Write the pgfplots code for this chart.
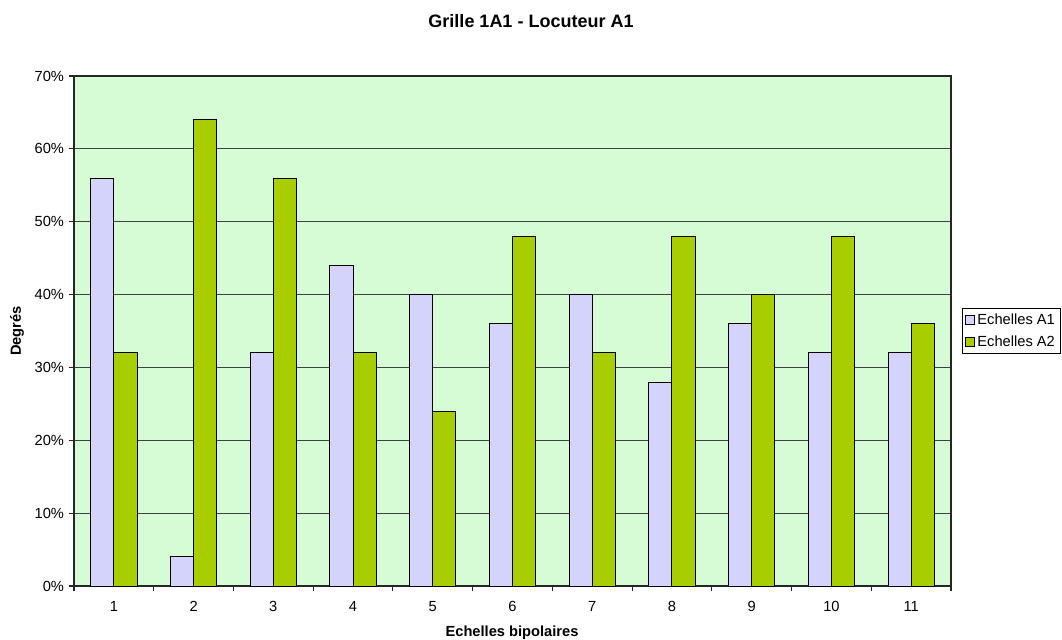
\documentclass[border=0pt]{standalone}
\usepackage{pgfplots}
\pgfplotsset{compat=1.18}
\usepackage{fontspec}
\setmainfont{Liberation Sans}
\definecolor{bgg}{RGB}{214,252,214}
\definecolor{cA}{RGB}{211,211,252}
\definecolor{cB}{RGB}{168,206,0}
\begin{document}
\begin{tikzpicture}[x=0.75pt,y=0.75pt]
\begin{axis}[
  at={(0,0)}, anchor=south west,
  scale only axis, width=657.75pt, height=382.5pt,
  ybar=0pt, bar width=0.29,
  xmin=0.5, xmax=11.5, ymin=0, ymax=70,
  axis background/.style={fill=bgg},
  axis line style={black!85, line width=0.9pt},
  xtick={1,...,11},
  major x tick style={draw=none},
  minor xtick={0.5,1.5,...,11.5},
  minor x tick style={black!85, line width=0.8pt},
  ytick={0,10,...,70},
  y tick style={black!85, line width=0.8pt},
  tick align=outside,
  major tick length=4pt, minor tick length=4pt,
  xtick pos=bottom, ytick pos=left,
  ymajorgrids, grid style={black!75, line width=0.6pt},
  yticklabel={\pgfmathprintnumber{\tick}\%},
  /pgf/number format/assume math mode=true,
  tick label style={font=\fontsize{11}{13}\selectfont},
  xticklabel style={yshift=-4pt},
  legend style={at={(1,0.5)}, anchor=west, xshift=8pt, draw=black, line width=0.6pt,
    font=\fontsize{11}{13}\selectfont, row sep=3pt, inner xsep=2pt, inner ysep=2pt},
  legend cell align=left,
  legend image code/.code={\draw[#1, draw=black, line width=0.5pt] (0pt,-3.5pt) rectangle (7pt,3.5pt);},
  every axis plot/.append style={draw=black, line width=0.7pt},
]
\addplot[fill=cA] coordinates {(1,56) (2,4) (3,32) (4,44) (5,40) (6,36) (7,40) (8,28) (9,36) (10,32) (11,32)};
\addplot[fill=cB] coordinates {(1,32) (2,64) (3,56) (4,32) (5,24) (6,48) (7,32) (8,48) (9,40) (10,48) (11,36)};
\legend{Echelles A1, Echelles A2}
\end{axis}
\node[font=\bfseries\fontsize{13.5}{15}\selectfont] at (457,565) {Grille 1A1 - Locuteur A1};
\node[font=\bfseries\fontsize{11}{13}\selectfont, rotate=90] at (-57,255) {Degrés};
\node[font=\bfseries\fontsize{11}{13}\selectfont] at (438,-47) {Echelles bipolaires};
\pgfresetboundingbox
\path[use as bounding box] (-74,-53) rectangle (988,586);
\end{tikzpicture}
\end{document}
